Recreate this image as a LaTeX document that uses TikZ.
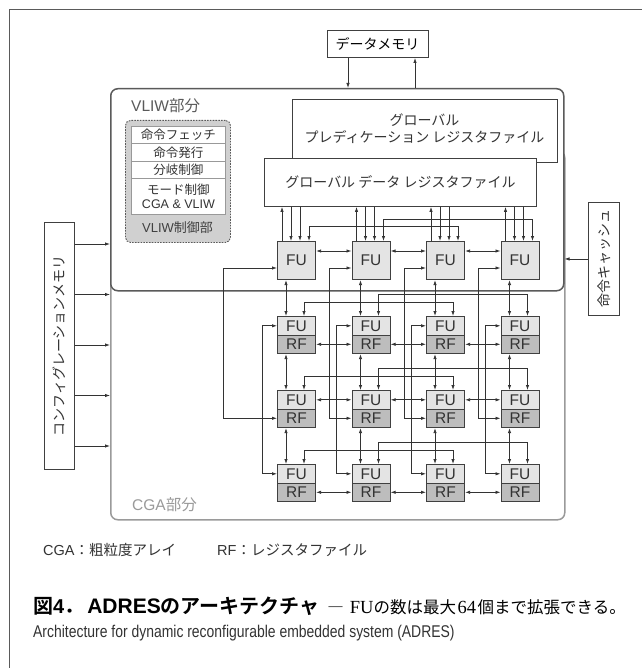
\documentclass[tikz,border=0pt]{standalone}
\usepackage{fontspec}
\setmainfont{Liberation Sans}
\newfontfamily\jp{Noto Sans CJK JP}[BoldFont={Noto Sans CJK JP Bold}]
\newfontfamily\serifl{Liberation Serif}
\newfontfamily\narrow{Liberation Sans}[FakeStretch=0.82]
\usetikzlibrary{arrows.meta,calc}
\definecolor{lc}{HTML}{333333}
\definecolor{bc}{HTML}{404040}
\definecolor{fug}{HTML}{E4E4E4}
\definecolor{rfg}{HTML}{BDBDBD}
\definecolor{vl}{HTML}{5A5A5A}
\definecolor{cg}{HTML}{9A9A9A}
\definecolor{ctl}{HTML}{D0D0D0}
\definecolor{rowb}{HTML}{999999}
\tikzset{
  plain/.style={draw=bc, fill=white, line width=0.9pt, inner sep=0pt},
  fubox/.style={draw=bc, fill=fug, line width=1.1pt, inner sep=0pt, minimum width=38pt, minimum height=38pt, anchor=north west, text=lc, font=\fontsize{15.5}{16}\selectfont},
  fucell/.style={fubox, minimum height=18.5pt},
  rfcell/.style={fucell, fill=rfg},
  ctlrow/.style={draw=rowb, fill=white, line width=0.9pt, inner sep=0pt, minimum width=94pt, anchor=north west, text=lc, font=\fontsize{12.5}{14.5}\selectfont, align=center},
  arr/.style={draw=lc, line width=0.75pt, -{Latex[length=5pt,width=3.4pt]}},
  darr/.style={draw=lc, line width=0.75pt, {Latex[length=5pt,width=3.4pt]}-{Latex[length=5pt,width=3.4pt]}},
  lbl/.style={inner sep=0pt, anchor=west},
}
\begin{document}
\begin{tikzpicture}[x=1pt,y=-1pt]
\useasboundingbox (0,0) rectangle (642,668);
\fill[white] (0,0) rectangle (642,668);
% outer frame
\draw[vl, line width=0.8pt] (9,668) -- (9,9) -- (642,9);

% containers
\node[draw=cg, line width=1.5pt, rounded corners=7pt, minimum width=454pt, minimum height=369pt, anchor=north west, inner sep=0pt] (cga) at (110,150) {};
\node[draw=vl, fill=white, line width=1.5pt, rounded corners=7pt, minimum width=453pt, minimum height=202pt, anchor=north west, inner sep=0pt] (vliw) at (110,88) {};
\node[lbl, text=vl, font=\fontsize{15.5}{16}\selectfont] (vlabel) at (131,106) {VLIW{\jp 部分}};
\node[lbl, text=cg, font=\fontsize{15.5}{16}\selectfont] (clabel) at (132,505) {CGA{\jp 部分}};

% data memory
\node[plain, minimum width=101pt, minimum height=27pt, font=\fontsize{14}{14}\selectfont] (dm) at (377.5,44) {\jp データメモリ};
\draw[arr] ([xshift=-29.5pt]dm.south) -- ([xshift=-29.5pt]dm.south |- vliw.north);
\draw[arr] ([xshift=37.5pt]dm.south |- vliw.north) -- ([xshift=37.5pt]dm.south);

% VLIW control
\node[draw=vl, dash pattern=on 1.6pt off 1.2pt, fill=ctl, rounded corners=5pt, line width=0.9pt, minimum width=105pt, minimum height=122pt, anchor=north west, inner sep=0pt] (ctrl) at (125,120) {};
\node[ctlrow, minimum height=17pt] (k1) at (131,126) {\jp 命令フェッチ};
\node[ctlrow, minimum height=18pt] (k2) at (131,143) {\jp 命令発行};
\node[ctlrow, minimum height=17pt] (k3) at (131,161) {\jp 分岐制御};
\node[ctlrow, minimum height=36pt] (k4) at (131,178) {{\jp モード制御}\\CGA \& VLIW};
\node[inner sep=0pt, text=bc, font=\fontsize{13}{13}\selectfont] (klabel) at (177.5,228) {VLIW{\jp 制御部}};

% global register files
\node[plain, minimum width=265pt, minimum height=63pt, anchor=north west] (gp) at (292,99) {};
\node[inner sep=0pt, align=center, text=lc, font=\jp\fontsize{14}{17}\selectfont] (gpt) at (424.5,128.5) {グローバル\\プレディケーション レジスタファイル};
\node[plain, minimum width=272pt, minimum height=48pt, anchor=north west, text=lc, font=\fontsize{14}{14}\selectfont] (gd) at (264,158) {\jp グローバル データ レジスタファイル};

% FUs and RFs
\foreach \c in {1,...,4} {
  \pgfmathsetmacro\xl{277+74.5*(\c-1)}
  \node[fubox] (t\c) at (\xl,241) {FU};
  \foreach \r/\yt in {1/316,2/390,3/464} {
    \node[fucell] (f\r\c) at (\xl,\yt) {FU};
    \node[rfcell] (r\r\c) at (\xl,\yt+18.5) {RF};
  }
}

% global data <-> top FUs
\foreach \c in {1,...,4} {
  \draw[arr] ([xshift=5pt]t\c.north west) -- ([xshift=5pt]t\c.north west |- gd.south);
  \draw[arr] ([xshift=14pt]t\c.north west |- gd.south) -- ([xshift=14pt]t\c.north west);
  \draw[arr] ([xshift=23pt]t\c.north west |- gd.south) -- ([xshift=23pt]t\c.north west);
}
% buses over the top row
\draw[darr] ([xshift=32pt]t1.north west) -- ++(0,-15) -| ([xshift=32pt]t3.north west);
\draw[darr] ([xshift=32pt]t2.north west) -- ++(0,-22) -| ([xshift=32pt]t4.north west);
% buses over CGA rows
\foreach \r in {1,2,3} {
  \draw[darr] ([xshift=27pt]f\r1.north west) -- ++(0,-14) -| ([xshift=27pt]f\r3.north west);
  \draw[darr] ([xshift=27pt]f\r2.north west) -- ++(0,-22) -| ([xshift=27pt]f\r4.north west);
}
% horizontal neighbours
\foreach \c/\n in {1/2,2/3,3/4} {
  \draw[darr] ([yshift=-10pt]t\c.north east) -- ([yshift=-10pt]t\n.north west);
  \draw[darr] (r1\c.east) -- (r1\n.west);
  \draw[darr] (f2\c.east) -- (f2\n.west);
  \draw[darr] (r3\c.east) -- (r3\n.west);
}
% vertical neighbours and routed links
\foreach \c/\dx in {1/54,2/22,3/22,4/22} {
  \draw[darr] ([xshift=9pt]t\c.south west) -- ([xshift=9pt]f1\c.north west);
  \draw[darr] ([xshift=9pt]r1\c.south west) -- ([xshift=9pt]f2\c.north west);
  \draw[darr] ([xshift=9pt]r2\c.south west) -- ([xshift=9pt]f3\c.north west);
  \draw[darr] ([yshift=-27pt]t\c.north west) -- ++(-\dx,0) |- (r2\c.west);
  \draw[darr] (f1\c.west) -- ++(-15,0) |- (f3\c.west);
}

% configuration memory
\node[plain, minimum width=30pt, minimum height=247pt, anchor=north west, text=lc, font=\fontsize{14}{14}\selectfont] (cm) at (44,222) {\rotatebox{90}{\jp コンフィグレーションメモリ}};
\foreach \d in {22,72.5,123,173.5,224} {
  \draw[arr] ([yshift=-\d pt]cm.north east) -- ([yshift=-\d pt]cm.north east -| vliw.west);
}
% instruction cache
\node[plain, minimum width=31pt, minimum height=113pt, anchor=north west, text=lc, font=\fontsize{14}{14}\selectfont] (cache) at (588,202) {\rotatebox{90}{\jp 命令キャッシュ}};
\draw[arr] (cache.west) -- (cache.west -| vliw.east);

% captions
\node[lbl, text=lc, font=\fontsize{14.5}{15}\selectfont] (cap1) at (43,550) {CGA{\jp ：粗粒度アレイ}};
\node[lbl, text=lc, font=\fontsize{14.5}{15}\selectfont] (cap2) at (217,550) {RF{\jp ：レジスタファイル}};
\node[lbl, text=black, font=\fontsize{20}{20}\selectfont] (title) at (33,606) {{\jp\bfseries 図}{\bfseries 4}{\jp\bfseries ．}\hspace{3pt}{\fontsize{21}{21}\selectfont\bfseries ADRES}{\jp\bfseries のアーキテクチャ}\hspace{8pt}{\fontsize{16.5}{17}\selectfont{\jp ―}\hspace{6pt}{\serifl\fontsize{18.5}{18}\selectfont FU}{\jp の数は最大}\hspace{1.5pt}{\serifl\fontsize{18.5}{18}\selectfont 64}\hspace{1.5pt}{\jp 個まで拡張できる。}}};
\node[lbl, text=lc, font=\narrow\fontsize{17}{17}\selectfont] (sub) at (33,633) {Architecture for dynamic reconfigurable embedded system (ADRES)};
\end{tikzpicture}
\end{document}
